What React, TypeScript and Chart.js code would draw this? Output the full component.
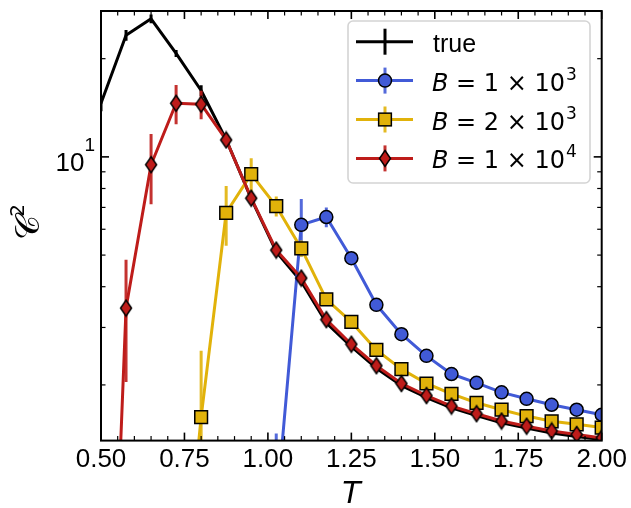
import { useEffect, useRef } from 'react';
import { Chart, registerables } from 'chart.js';
Chart.register(...registerables);

// ---------------- data ----------------
const T = [0.5, 0.575, 0.65, 0.725, 0.8, 0.875, 0.95, 1.025, 1.1, 1.175, 1.25, 1.325, 1.4, 1.475, 1.55, 1.625, 1.7, 1.775, 1.85, 1.925, 2.0];

const trueC2 = [14.6, 23.6, 26.5, 20.75, 15.98, 11.3, 7.45, 5.12, 4.15, 3.1, 2.62, 2.25, 1.99, 1.83, 1.7, 1.61, 1.53, 1.475, 1.425, 1.39, 1.36];
const trueErr = [0.8, 0.9, 0.8, 0.5, 0.6, 0.35, 0.2, 0.12, 0.1, 0.06, 0.05, 0.04, 0.03, 0.03, 0.02, 0.02, 0.02, 0.02, 0.02, 0.02, 0.02];

const b1e3C2 = [null, null, null, null, null, null, null, 0.82, 6.19, 6.54, 4.89, 3.52, 2.86, 2.455, 2.16, 2.03, 1.898, 1.813, 1.738, 1.679, 1.62];
const b1e3Err = [null, null, null, null, null, null, null, 0.6, 1.24, 0.45, 0.15, 0.08, 0.05, 0.04, 0.03, 0.03, 0.02, 0.02, 0.02, 0.02, 0.02];

const b2e3C2 = [null, null, null, 0.26, 1.594, 6.74, 8.85, 7.06, 5.24, 3.66, 3.12, 2.56, 2.236, 2.02, 1.877, 1.763, 1.679, 1.605, 1.547, 1.515, 1.48];
const b2e3Err = [null, null, null, 0.2, 0.95, 1.4, 1.05, 0.5, 0.3, 0.12, 0.08, 0.06, 0.04, 0.03, 0.03, 0.02, 0.02, 0.02, 0.02, 0.02, 0.02];

const b1e4C2 = [0.04, 3.44, 9.46, 14.6, 14.5, 11.27, 7.47, 5.18, 4.25, 3.17, 2.665, 2.29, 2.02, 1.855, 1.722, 1.632, 1.55, 1.494, 1.445, 1.41, 1.376];
const b1e4Err = [0.03, 1.4, 2.3, 2.0, 1.45, 0.5, 0.3, 0.15, 0.1, 0.06, 0.04, 0.03, 0.03, 0.02, 0.02, 0.02, 0.02, 0.02, 0.02, 0.02, 0.02];

const seriesLabels = ['true', 'B = 1 × 10³', 'B = 2 × 10³', 'B = 1 × 10⁴'];
const legendMantissas = ['1', '2', '1'];
const legendExponents = ['3', '3', '4'];

const xTickValues = [0.5, 0.75, 1.0, 1.25, 1.5, 1.75, 2.0];
const xTickLabels = ['0.50', '0.75', '1.00', '1.25', '1.50', '1.75', '2.00'];
const yMajorTicks = [10];
const yMajorLabels = [{ base: '10', exp: '1' }];
const yMinorTicks = [2, 3, 4, 5, 6, 7, 8, 9, 20];
const xLabel = 'T';
const yLabel = { main: '𝒞', sup: '2' };

// ---------------- styles ----------------
const BLACK = '#000000';
const BLUE = 'rgb(65, 90, 215)';
const YELLOW = 'rgb(225, 178, 10)';
const RED = 'rgb(190, 28, 26)';
const colors = [BLACK, BLUE, YELLOW, RED];
const errColors = ['rgba(0,0,0,1)', 'rgba(65,90,215,0.9)', 'rgba(225,178,10,0.9)', 'rgba(190,28,26,0.9)'];
const errorsByDataset = [trueErr, b1e3Err, b2e3Err, b1e4Err];

let diamondImg: HTMLCanvasElement | null = null;
function getDiamond(): HTMLCanvasElement {
  if (diamondImg) return diamondImg;
  const w = 11, h = 16, lw = 1.5;
  const c = document.createElement('canvas');
  c.width = Math.ceil(w + lw * 2);
  c.height = Math.ceil(h + lw * 2);
  const ctx = c.getContext('2d')!;
  const cx = c.width / 2, cy = c.height / 2;
  ctx.beginPath();
  ctx.moveTo(cx, cy - h / 2);
  ctx.lineTo(cx + w / 2, cy);
  ctx.lineTo(cx, cy + h / 2);
  ctx.lineTo(cx - w / 2, cy);
  ctx.closePath();
  ctx.fillStyle = RED;
  ctx.fill();
  ctx.lineWidth = lw;
  ctx.strokeStyle = '#000';
  ctx.lineJoin = 'miter';
  ctx.stroke();
  diamondImg = c;
  return c;
}

const toPoints = (vals: (number | null)[]) => T.map((t, i) => ({ x: t, y: vals[i] }));

// ---------------- plugins ----------------
const errorBarPlugin = {
  id: 'errorBars',
  beforeDatasetDraw(chart: any, args: any) {
    const i = args.index;
    const errs = errorsByDataset[i];
    if (!errs) return;
    const ds = chart.data.datasets[i];
    const xs = chart.scales.x, ys = chart.scales.y;
    const ctx = chart.ctx;
    const a = chart.chartArea;
    ctx.save();
    ctx.beginPath();
    ctx.rect(a.left, a.top, a.right - a.left, a.bottom - a.top);
    ctx.clip();
    ctx.strokeStyle = errColors[i];
    ctx.lineWidth = 3;
    ds.data.forEach((p: any, j: number) => {
      const e = errs[j];
      if (p.y == null || e == null) return;
      const px = xs.getPixelForValue(p.x);
      const y1 = ys.getPixelForValue(p.y + e);
      const lo = p.y - e;
      const y2 = lo > 0 ? ys.getPixelForValue(lo) : a.bottom + 20;
      ctx.beginPath();
      ctx.moveTo(px, y1);
      ctx.lineTo(px, y2);
      ctx.stroke();
    });
    ctx.restore();
  },
};

function line(ctx: CanvasRenderingContext2D, x1: number, y1: number, x2: number, y2: number) {
  ctx.beginPath();
  ctx.moveTo(x1, y1);
  ctx.lineTo(x2, y2);
  ctx.stroke();
}

const framePlugin = {
  id: 'frame',
  afterDatasetsDraw(chart: any) {
    const ctx: CanvasRenderingContext2D = chart.ctx;
    const a = chart.chartArea;
    const xs = chart.scales.x, ys = chart.scales.y;
    ctx.save();
    ctx.strokeStyle = '#000';
    const MAJ = 8, MIN = 4.5;
    // x ticks
    ctx.lineWidth = 1.6;
    xTickValues.forEach((v) => {
      const px = xs.getPixelForValue(v);
      line(ctx, px, a.bottom, px, a.bottom - MAJ);
      line(ctx, px, a.top, px, a.top + MAJ);
    });
    ctx.lineWidth = 1.2;
    for (let k = 1; k < 30; k++) {
      const v = 0.5 + k * 0.05;
      if (k % 5 === 0) continue;
      const px = xs.getPixelForValue(v);
      line(ctx, px, a.bottom, px, a.bottom - MIN);
      line(ctx, px, a.top, px, a.top + MIN);
    }
    // y ticks
    ctx.lineWidth = 1.6;
    yMajorTicks.forEach((v) => {
      const py = ys.getPixelForValue(v);
      line(ctx, a.left, py, a.left + MAJ, py);
      line(ctx, a.right, py, a.right - MAJ, py);
    });
    ctx.lineWidth = 1.2;
    yMinorTicks.forEach((v) => {
      const py = ys.getPixelForValue(v);
      line(ctx, a.left, py, a.left + MIN, py);
      line(ctx, a.right, py, a.right - MIN, py);
    });
    // frame
    ctx.lineWidth = 2;
    ctx.strokeRect(a.left, a.top, a.right - a.left, a.bottom - a.top);

    // y tick labels
    ctx.fillStyle = '#000';
    ctx.textBaseline = 'alphabetic';
    yMajorTicks.forEach((v, i) => {
      const py = ys.getPixelForValue(v);
      const lab = yMajorLabels[i];
      ctx.font = '26px "Liberation Sans", Arial, sans-serif';
      ctx.textAlign = 'right';
      ctx.fillText(lab.base, a.left - 16.5, py + 14);
      ctx.font = '19px "Liberation Sans", Arial, sans-serif';
      ctx.textAlign = 'left';
      ctx.fillText(lab.exp, a.left - 16.5, py - 6.3);
    });

    // y title
    ctx.save();
    ctx.translate(27, (a.top + a.bottom) / 2);
    ctx.rotate(-Math.PI / 2);
    ctx.textAlign = 'left';
    ctx.font = '34px "DejaVu Serif", "DejaVu Sans", serif';
    ctx.fillText(yLabel.main, -14, 12);
    const w = ctx.measureText(yLabel.main).width;
    ctx.font = '20px "DejaVu Sans", sans-serif';
    ctx.fillText(yLabel.sup, -14 + w - 2, -3);
    ctx.restore();

    ctx.restore();
  },
};

const legendPlugin = {
  id: 'mplLegend',
  afterDraw(chart: any) {
    const ctx: CanvasRenderingContext2D = chart.ctx;
    ctx.save();
    const bx = 348, by = 21, bw = 242, bh = 162, r = 5;
    ctx.beginPath();
    ctx.roundRect(bx, by, bw, bh, r);
    ctx.fillStyle = 'rgba(255,255,255,0.8)';
    ctx.fill();
    ctx.strokeStyle = '#d4d4d4';
    ctx.lineWidth = 1.6;
    ctx.stroke();

    const rowY0 = 41.7, rowStep = 38.9;
    const hx1 = 356, hx2 = 413, hc = 385;
    const tx = 432;
    seriesLabels.forEach((_, i) => {
      const ry = rowY0 + i * rowStep;
      ctx.strokeStyle = errColors[i];
      ctx.lineWidth = 3;
      line(ctx, hc, ry - 13, hc, ry + 13);
      ctx.strokeStyle = colors[i];
      ctx.lineWidth = 3;
      line(ctx, hx1, ry, hx2, ry);
      // marker
      ctx.lineWidth = 1.5;
      ctx.strokeStyle = '#000';
      if (i === 1) {
        ctx.beginPath();
        ctx.arc(hc, ry, 6.5, 0, Math.PI * 2);
        ctx.fillStyle = BLUE;
        ctx.fill();
        ctx.stroke();
      } else if (i === 2) {
        const s = 12.7;
        ctx.fillStyle = YELLOW;
        ctx.fillRect(hc - s / 2, ry - s / 2, s, s);
        ctx.strokeRect(hc - s / 2, ry - s / 2, s, s);
      } else if (i === 3) {
        const d = getDiamond();
        ctx.drawImage(d, hc - d.width / 2, ry - d.height / 2);
      }
      // text
      ctx.fillStyle = '#000';
      ctx.textAlign = 'left';
      ctx.textBaseline = 'alphabetic';
      const base = ry + 10;
      if (i === 0) {
        ctx.font = '25px "Liberation Sans", Arial, sans-serif';
        ctx.fillText(seriesLabels[0], tx + 1, base);
      } else {
        ctx.font = 'italic 24px "DejaVu Sans", sans-serif';
        ctx.fillText('B', tx, base);
        let cx = tx + ctx.measureText('B').width;
        ctx.font = '24px "DejaVu Sans", sans-serif';
        const s = ` = ${legendMantissas[i - 1]} × 10`;
        ctx.fillText(s, cx, base);
        cx += ctx.measureText(s).width;
        ctx.font = '17px "DejaVu Sans", sans-serif';
        ctx.fillText(legendExponents[i - 1], cx + 1, base - 11);
      }
    });
    ctx.restore();
  },
};

export default function App() {
  const ref = useRef<HTMLCanvasElement>(null);
  useEffect(() => {
    document.body.style.margin = '0';
    const canvas = ref.current!;
    const diamond = getDiamond();
    const chart = new Chart(canvas, {
      type: 'line',
      data: {
        datasets: [
          {
            label: seriesLabels[0],
            data: toPoints(trueC2),
            borderColor: BLACK,
            borderWidth: 3,
            pointRadius: 0,
            order: 4,
          },
          {
            label: seriesLabels[1],
            data: toPoints(b1e3C2),
            borderColor: BLUE,
            borderWidth: 3,
            pointStyle: 'circle',
            pointRadius: 6.5,
            pointBackgroundColor: BLUE,
            pointBorderColor: '#000',
            pointBorderWidth: 1.5,
            order: 3,
          },
          {
            label: seriesLabels[2],
            data: toPoints(b2e3C2),
            borderColor: YELLOW,
            borderWidth: 3,
            pointStyle: 'rect',
            pointRadius: 9,
            pointBackgroundColor: YELLOW,
            pointBorderColor: '#000',
            pointBorderWidth: 1.5,
            order: 2,
          },
          {
            label: seriesLabels[3],
            data: toPoints(b1e4C2),
            borderColor: RED,
            borderWidth: 3,
            pointStyle: diamond as any,
            pointRadius: 8,
            pointBackgroundColor: RED,
            pointBorderColor: '#000',
            order: 1,
          },
        ] as any,
      },
      options: {
        animation: false,
        responsive: false,
        devicePixelRatio: 1,
        events: [],
        layout: { padding: { left: 101, right: 27, top: 7, bottom: 0 } },
        elements: { line: { tension: 0, borderJoinStyle: 'round', borderCapStyle: 'round' } },
        plugins: { legend: { display: false }, tooltip: { enabled: false } },
        scales: {
          x: {
            type: 'linear',
            min: 0.5,
            max: 2.0,
            afterBuildTicks: (s: any) => {
              s.ticks = xTickValues.map((v) => ({ value: v }));
            },
            afterFit: (s: any) => {
              s.height = 67.4;
            },
            grid: { display: false, drawTicks: false },
            border: { display: false },
            ticks: {
              autoSkip: false,
              maxRotation: 0,
              padding: 4,
              color: '#000',
              font: { family: '"Liberation Sans", Arial, sans-serif', size: 26 },
              callback: (_v: any, i: number) => xTickLabels[i],
            },
            title: {
              display: true,
              text: xLabel,
              color: '#000',
              padding: { top: 0, bottom: -2 },
              font: { family: '"DejaVu Sans", sans-serif', size: 30, style: 'italic', lineHeight: 1 },
            },
          },
          y: {
            type: 'logarithmic',
            min: 1.35,
            max: 28,
            display: false,
          },
        },
      },
      plugins: [errorBarPlugin, framePlugin, legendPlugin],
    } as any);
    return () => chart.destroy();
  }, []);
  return (
    <div style={{ width: 631, height: 508 }}>
      <canvas ref={ref} width={631} height={508} style={{ display: 'block' }} />
    </div>
  );
}
